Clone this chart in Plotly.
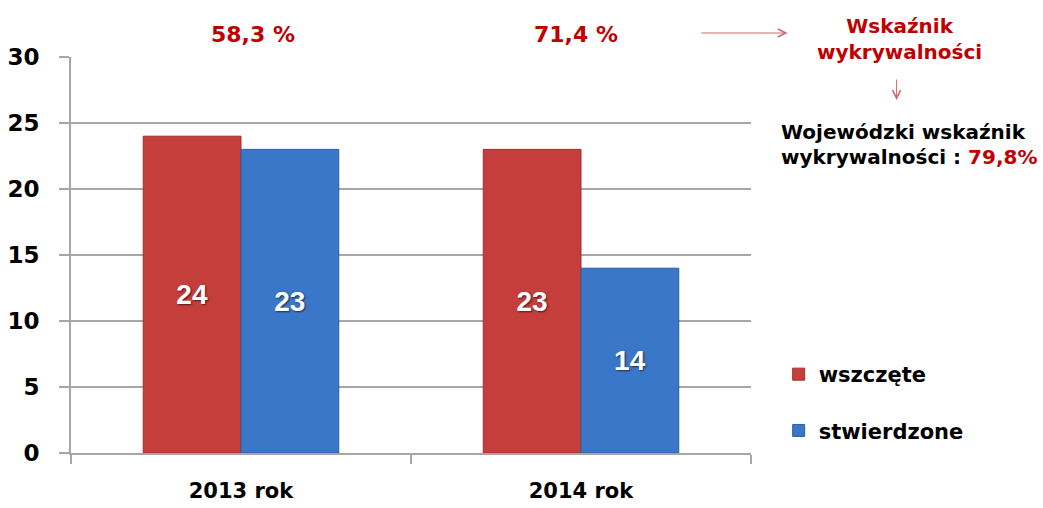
import plotly.graph_objects as go

# ---- data ----
categories = ["2013 rok", "2014 rok"]
wszczete = [24, 23]
stwierdzone = [23, 14]
rates = ["58,3 %", "71,4 %"]
series_names = ["wszczęte", "stwierdzone"]
title_lines = "Wskaźnik<br>wykrywalności"
regional_line1 = "Wojewódzki wskaźnik"
regional_line2 = "wykrywalności : "
regional_value = "79,8%"
y_ticks = [0, 5, 10, 15, 20, 25, 30]

W, H = 1043, 508
L, R, T, B = 70.7, 751.3, 57, 453


def px_x(p):
    return (p - L) / (R - L)


def px_y(p):
    return (B - p) / (B - T)


RED = "#C53E3B"
BLUE = "#3B77C8"
DARKRED = "#C00000"
GRID = "#A6A6A6"
TXT_FONT = "DejaVu Sans"

fig = go.Figure()
for name, vals, col, lc, grp in [
    (series_names[0], wszczete, RED, "#9E2F2C", "a"),
    (series_names[1], stwierdzone, BLUE, "#2E5E9E", "b"),
]:
    fig.add_trace(go.Bar(
        x=categories, y=vals, name=name, legendgroup=grp,
        marker=dict(color=col, line=dict(color=lc, width=1)),
        text=[str(v) for v in vals], textposition="inside",
        insidetextanchor="middle",
        textfont=dict(family="Liberation Sans", size=28, color="white",
                      weight="bold", shadow="1px 1px 2px rgba(0,0,0,0.6)"),
        hoverinfo="skip",
    ))

annotations = []
for cat, r, xs in zip(categories, rates, [12, -5]):
    annotations.append(dict(
        x=cat, xref="x", y=px_y(35), yref="paper", text=r, showarrow=False,
        xshift=xs, yanchor="middle", xanchor="center",
        font=dict(family=TXT_FONT, size=22, color=DARKRED, weight="bold"),
    ))

annotations += [
    # right arrow
    dict(x=px_x(788), y=px_y(33), xref="paper", yref="paper", ax=-88, ay=0,
         text="", showarrow=True, arrowhead=5, arrowsize=1.6, arrowwidth=1,
         arrowcolor="#D06A6A"),
    # title
    dict(x=px_x(900), y=px_y(38.5), xref="paper", yref="paper", text=title_lines,
         showarrow=False, align="center", xanchor="center", yanchor="middle",
         font=dict(family=TXT_FONT, size=20, color=DARKRED, weight="bold")),
    # down arrow
    dict(x=px_x(897), y=px_y(100), xref="paper", yref="paper", ax=0, ay=-22,
         text="", showarrow=True, arrowhead=5, arrowsize=1.6, arrowwidth=1,
         arrowcolor="#D06A6A"),
    dict(x=px_x(779), y=px_y(132), xref="paper", yref="paper", text=regional_line1,
         showarrow=False, xanchor="left", yanchor="middle",
         font=dict(family=TXT_FONT, size=20, color="black", weight="bold")),
    dict(x=px_x(779), y=px_y(157), xref="paper", yref="paper",
         text=regional_line2 + f"<span style='color:{DARKRED}'>{regional_value}</span>",
         showarrow=False, xanchor="left", yanchor="middle",
         font=dict(family=TXT_FONT, size=20, color="black", weight="bold")),
]

fig.update_layout(
    width=W, height=H,
    margin=dict(l=L, r=W - R, t=T, b=H - B, pad=0, autoexpand=False),
    paper_bgcolor="white", plot_bgcolor="white",
    barmode="group", bargap=0.425, bargroupgap=0,
    showlegend=True,
    legend=dict(x=px_x(779), y=px_y(354), xanchor="left", yanchor="top",
                font=dict(family=TXT_FONT, size=21, color="black", weight="bold"),
                tracegroupgap=26, bgcolor="rgba(0,0,0,0)"),
    annotations=annotations,
    xaxis=dict(
        range=[-0.5, 1.5], showgrid=False, showline=True, linecolor=GRID, linewidth=2,
        ticks="outside", tickson="boundaries", ticklen=9, tickwidth=2, tickcolor=GRID,
        tickfont=dict(family=TXT_FONT, size=21, color="black", weight="bold"),
        ticklabelstandoff=18, zeroline=False, automargin=False,
    ),
    yaxis=dict(
        range=[0, 30], tickvals=y_ticks, showgrid=True, gridcolor=GRID, gridwidth=1.5,
        showline=True, linecolor=GRID, linewidth=2,
        ticks="outside", ticklen=10, tickwidth=1.5, tickcolor=GRID,
        tickfont=dict(family=TXT_FONT, size=23, color="black", weight="bold"),
        ticklabelstandoff=15, zeroline=False, automargin=False,
    ),
)

fig.write_html("out.html", config={"displayModeBar": False},
               post_script="document.body.style.margin='0';")
